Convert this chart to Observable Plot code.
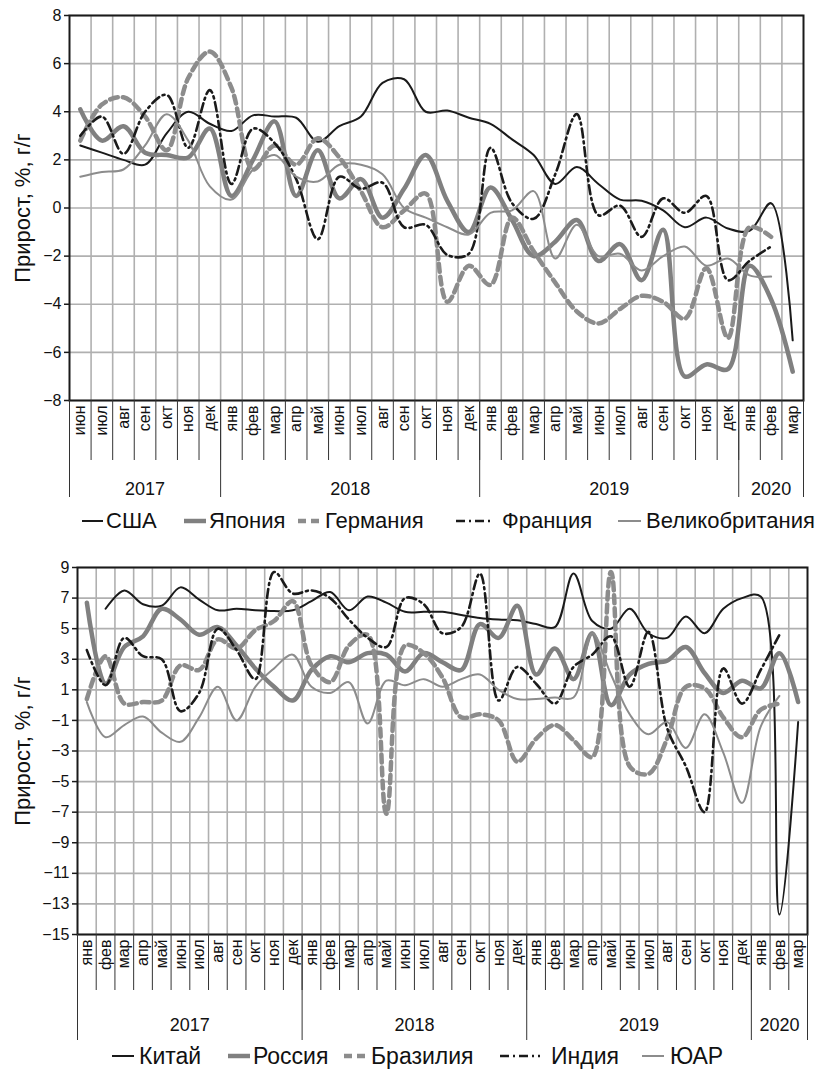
<!DOCTYPE html>
<html><head><meta charset="utf-8">
<script src="https://cdn.jsdelivr.net/npm/d3@7"></script>
<script src="https://cdn.jsdelivr.net/npm/@observablehq/plot@0.6"></script>
<style>
body{margin:0;background:#fff;font-family:"Liberation Sans",Arial,sans-serif;}
#wrap{position:relative;width:823px;height:1072px;overflow:hidden;}
.chart{position:absolute;left:0;}
.leg{position:absolute;left:0;width:823px;height:28px;color:#111;}
.leg span{position:absolute;top:0;white-space:nowrap;line-height:28px;}
.leg svg{position:absolute;top:0;}
</style></head>
<body><div id="wrap"></div>
<script>
// ---------- Top panel data (June 2017 – March 2020) ----------
const monthsTop = ["июн","июл","авг","сен","окт","ноя","дек",
  "янв","фев","мар","апр","май","июн","июл","авг","сен","окт","ноя","дек",
  "янв","фев","мар","апр","май","июн","июл","авг","сен","окт","ноя","дек",
  "янв","фев","мар"];
const yearsTop = ["2017","2018","2019","2020"];
const yearSpansTop = [7,12,12,3];
const namesTop = ["США","Япония","Германия","Франция","Великобритания"];
const usa     = [2.6,2.3,2.0,1.8,3.1,4.0,3.5,3.2,3.85,3.8,3.75,2.75,3.4,3.8,5.2,5.35,4.0,4.05,3.75,3.5,2.85,2.2,1.0,1.7,1.0,0.35,0.3,-0.1,-0.8,-0.4,-0.85,-0.95,0.2,-5.5];
const japan   = [4.1,2.8,3.4,2.3,2.2,2.1,3.3,0.5,2.0,3.6,0.5,2.4,0.4,1.2,-0.4,0.8,2.2,0.3,-1.0,0.85,-0.5,-2.0,-1.4,-0.5,-2.2,-1.5,-3.0,-0.9,-7.0,-6.5,-6.7,-2.4,-3.8,-6.8];
const germany = [2.8,4.3,4.6,3.8,2.4,5.4,6.5,5.0,1.6,2.6,1.8,2.9,2.1,0.7,-0.8,-0.1,0.6,-3.9,-2.4,-3.2,-0.4,-1.8,-3.1,-4.3,-4.8,-4.2,-3.65,-3.9,-4.6,-2.5,-5.4,-0.8,-1.2,null];
const france  = [3.0,3.8,2.25,4.0,4.7,2.5,4.9,1.0,3.3,2.7,1.2,-1.3,1.3,0.8,1.05,-0.8,-0.7,-1.95,-1.9,2.5,0.2,-0.45,1.4,3.9,-0.3,0.1,-1.2,0.4,-0.2,0.5,-3.0,-2.2,-1.6,null];
const uk      = [1.3,1.5,1.6,2.6,3.9,2.8,0.9,0.35,1.6,2.2,1.3,1.1,1.8,1.8,1.4,0.0,-0.4,-0.8,-1.1,-0.2,-0.1,0.7,-2.1,-0.7,-2.0,-1.9,-2.6,-2.0,-1.6,-2.4,-2.1,-2.8,-2.85,null];
const yTicksTop = [-8,-6,-4,-2,0,2,4,6,8];

// ---------- Bottom panel data (January 2017 – March 2020) ----------
const monthsBot = ["янв","фев","мар","апр","май","июн","июл","авг","сен","окт","ноя","дек",
  "янв","фев","мар","апр","май","июн","июл","авг","сен","окт","ноя","дек",
  "янв","фев","мар","апр","май","июн","июл","авг","сен","окт","ноя","дек",
  "янв","фев","мар"];
const yearsBot = ["2017","2018","2019","2020"];
const yearSpansBot = [12,12,12,3];
const namesBot = ["Китай","Россия","Бразилия","Индия","ЮАР"];
const china  = [null,6.3,7.5,6.6,6.5,7.7,6.9,6.2,6.3,6.2,6.15,6.2,6.8,7.4,6.2,7.1,6.7,6.1,6.1,6.1,5.9,5.7,5.6,5.55,5.3,5.1,8.6,5.5,5.0,6.3,4.7,4.4,5.8,4.7,6.3,7.0,7.1,-13.7,-1.1];
const russia = [6.7,1.4,3.8,4.5,6.3,5.6,4.6,5.1,3.9,2.4,1.2,0.3,2.3,3.2,2.8,3.4,3.3,2.2,3.4,2.8,2.3,5.3,4.4,6.5,2.0,3.7,1.7,4.7,0.0,2.0,2.7,2.9,3.8,2.1,0.8,1.6,1.1,3.4,0.2];
const brazil = [0.4,3.2,0.1,0.2,0.3,2.6,2.3,4.3,3.7,4.9,5.5,6.8,2.6,1.5,3.9,4.6,-7.1,3.9,3.4,1.8,-0.8,-0.6,-1.0,-3.7,-2.2,-1.3,-2.3,-3.4,8.7,-4.0,-4.5,-2.2,1.2,1.1,-0.8,-2.1,-0.3,0.1,null];
const india  = [3.6,1.3,4.4,3.2,3.0,-0.4,0.8,5.0,3.6,1.7,8.7,7.3,7.5,7.0,5.6,4.4,3.8,7.0,6.6,4.7,5.1,8.6,0.3,2.5,1.4,0.1,2.5,3.3,4.5,1.2,4.8,-1.5,-4.0,-7.0,2.4,0.1,2.3,4.6,null];
const sa     = [0.2,-2.1,-1.3,-0.75,-1.8,-2.4,-0.8,1.2,-1.0,1.2,2.4,3.3,1.2,0.8,1.5,-1.2,1.6,1.3,1.7,1.2,1.7,2.0,1.0,0.4,0.4,0.5,0.5,4.7,2.0,-0.6,-1.9,-1.1,-2.8,-0.6,-3.1,-6.4,-1.4,0.6,null];
const yTicksBot = [-15,-13,-11,-9,-7,-5,-3,-1,1,3,5,7,9];

const yLabel = "Прирост, %, г/г";

// ---------- styles per legend position ----------
const styles = [
  {stroke:"#1a1a1a", strokeWidth:2},
  {stroke:"#808080", strokeWidth:4.5},
  {stroke:"#8c8c8c", strokeWidth:4.5, strokeDasharray:"8,5"},
  {stroke:"#1a1a1a", strokeWidth:2.6, strokeDasharray:"9,4,2,4"},
  {stroke:"#8c8c8c", strokeWidth:2}
];

function panel(cfg){
  const {months, years, spans, series, yTicks, height, mt, mb, ml, mr, monthRow, yearRow, yearText, labelDx} = cfg;
  const n = months.length;
  const yMin = d3.min(yTicks), yMax = d3.max(yTicks);
  const k = (height - mt - mb) / (yMax - yMin); // px per unit
  const below = px => yMin - px / k;
  const bounds = [0]; spans.forEach(s => bounds.push(bounds[bounds.length-1] + s));
  const yearCenters = years.map((y,i) => (bounds[i] + bounds[i+1]) / 2 - 0.5);
  const marks = [
    Plot.ruleY(yTicks, {stroke:"#b0b0b0", strokeWidth:1.6}),
    Plot.ruleX(d3.range(1, n), {x: d => d - 0.5, stroke:"#b0b0b0", strokeWidth:1.6})
  ];
  series.forEach((vals, si) => {
    const data = vals.map((v,i) => ({i, v})).filter(d => d.v != null);
    marks.push(Plot.line(data, {x:"i", y:"v", curve:"catmull-rom", strokeLinejoin:"round", ...styles[si]}));
  });
  marks.push(
    Plot.frame({stroke:"#1a1a1a", strokeWidth:2}),
    Plot.axisY(yTicks, {tickSize:5, tickPadding:3, fontSize:16, label:null, stroke:"#1a1a1a", strokeWidth:1.5}),
    Plot.ruleX(d3.range(0, n + 1), {x: d => d - 0.5, y1: yMin, y2: below(monthRow), stroke:"#333", strokeWidth:1}),
    Plot.ruleX(bounds, {x: d => d - 0.5, y1: yMin, y2: below(yearRow), stroke:"#333", strokeWidth:1}),
    Plot.text(months, {x: (d,i) => i, y: below(5), text: d => d, rotate:-90, textAnchor:"end", fontSize:16, fill:"#111"}),
    Plot.text(years, {x: (d,i) => yearCenters[i], y: below(yearText), text: d => d, fontSize:18, fill:"#111"}),
    Plot.text([yLabel], {frameAnchor:"left", textAnchor:"middle", dx: labelDx, rotate:-90, fontSize:22, fill:"#111"})
  );
  return Plot.plot({
    width: 823, height, marginTop: mt, marginBottom: mb, marginLeft: ml, marginRight: mr,
    style: {fontFamily: "'Liberation Sans', Arial, sans-serif", color:"#111", background:"transparent"},
    x: {domain: [-0.5, n - 0.5], axis: null},
    y: {domain: [yMin, yMax], axis: null},
    marks
  });
}

function legend(names, xs, top, fs){
  const div = document.createElement("div");
  div.className = "leg"; div.style.top = top + "px"; div.style.fontSize = fs + "px";
  names.forEach((nm, i) => {
    const s = styles[i];
    const [x0, x1, xt] = xs[i];
    const w = x1 - x0;
    const svg = d3.create("svg").attr("width", w).attr("height", 28).style("left", x0 + "px");
    svg.append("line").attr("x1", 0).attr("x2", w).attr("y1", 14).attr("y2", 14)
      .attr("stroke", s.stroke).attr("stroke-width", s.strokeWidth).attr("stroke-dasharray", s.strokeDasharray || null);
    div.appendChild(svg.node());
    const sp = document.createElement("span");
    sp.textContent = nm; sp.style.left = xt + "px";
    div.appendChild(sp);
  });
  return div;
}

const wrap = document.getElementById("wrap");
const top1 = panel({months: monthsTop, years: yearsTop, spans: yearSpansTop,
  series: [usa, japan, germany, france, uk], yTicks: yTicksTop,
  height: 505, mt: 15, mb: 105, ml: 69, mr: 20, monthRow: 60, yearRow: 97, yearText: 89, labelDx: -47});
top1.classList.add("chart"); top1.style.top = "0px";
wrap.appendChild(top1);
wrap.appendChild(legend(namesTop, [[82,103,106],[184,206,209],[298,321,325],[456,492,502],[618,641,646]], 507, 22));

const bot = panel({months: monthsBot, years: yearsBot, spans: yearSpansBot,
  series: [china, russia, brazil, india, sa], yTicks: yTicksBot,
  height: 502, mt: 27, mb: 108, ml: 77, mr: 16, monthRow: 56, yearRow: 106, yearText: 91, labelDx: -55});
bot.classList.add("chart"); bot.style.top = "540px";
wrap.appendChild(bot);
wrap.appendChild(legend(namesBot, [[112,134,139],[228,250,253],[344,367,371],[500,540,551],[642,664,670]], 1042, 23));
</script>
</body></html>
